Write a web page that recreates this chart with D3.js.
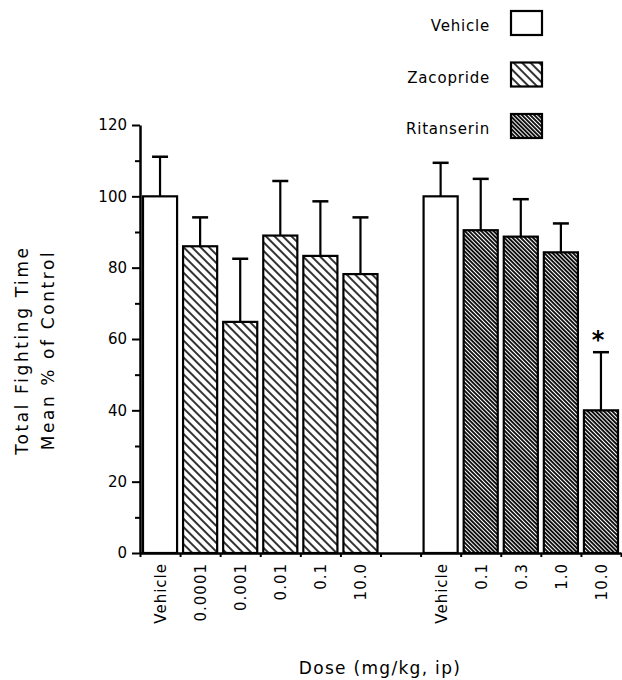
<!DOCTYPE html>
<html>
<head>
<meta charset="utf-8">
<script src="https://cdn.jsdelivr.net/npm/d3@7"></script>
<style>
    body { margin: 0; background: #fff; }
    text { font-family: "DejaVu Sans", sans-serif; fill: #000; }
</style>
</head>
<body>
<svg width="622" height="680"></svg>
<script>
// values
var doseLabels = ['Vehicle', '0.0001', '0.001', '0.01', '0.1', '10.0', 'Vehicle', '0.1', '0.3', '1.0', '10.0'];
var treatment = ['Vehicle', 'Zacopride', 'Zacopride', 'Zacopride', 'Zacopride', 'Zacopride',
                 'Vehicle', 'Ritanserin', 'Ritanserin', 'Ritanserin', 'Ritanserin'];
var means = [100, 86, 64.8, 89, 83.3, 78.2, 100, 90.5, 88.7, 84.3, 40];
var sems = [11.1, 8.1, 17.7, 15.3, 15.3, 15.9, 9.4, 14.4, 10.5, 8.1, 16.3];
var significant = [false, false, false, false, false, false, false, false, false, false, true];
// slot index of every bar (slot 6 is the gap between the two experiments)
var slots = [0, 1, 2, 3, 4, 5, 7, 8, 9, 10, 11];
var legendNames = ['Vehicle', 'Zacopride', 'Ritanserin'];
var yTicks = [0, 20, 40, 60, 80, 100, 120];

var svg = d3.select('svg');
var defs = svg.append('defs');

// hatch patterns
var zac = defs.append('pattern')
    .attr('id', 'hatchZac')
    .attr('patternUnits', 'userSpaceOnUse')
    .attr('width', 6).attr('height', 6)
    .attr('patternTransform', 'rotate(-45)');
zac.append('rect').attr('width', 6).attr('height', 6).attr('fill', '#fff');
zac.append('line')
    .attr('x1', 3).attr('y1', 0).attr('x2', 3).attr('y2', 6)
    .attr('stroke', '#000').attr('stroke-width', 1.6);

var rit = defs.append('pattern')
    .attr('id', 'hatchRit')
    .attr('patternUnits', 'userSpaceOnUse')
    .attr('width', 2.9).attr('height', 2.9)
    .attr('patternTransform', 'rotate(-45)');
rit.append('rect').attr('width', 2.9).attr('height', 2.9).attr('fill', '#000');
rit.append('line')
    .attr('x1', 1.45).attr('y1', 0).attr('x2', 1.45).attr('y2', 2.9)
    .attr('stroke', '#fff').attr('stroke-width', 1.1);

var fills = { 'Vehicle': '#fff', 'Zacopride': 'url(#hatchZac)', 'Ritanserin': 'url(#hatchRit)' };

// scales
var xScale = d3.scaleLinear().domain([0, 12]).range([140, 621]);
var yScale = d3.scaleLinear().domain([0, 120]).range([553, 125]);
var slotW = xScale(1) - xScale(0);
var barW = slotW - 6;

// y axis: major ticks every 20, minor every 10
var yMinor = svg.append('g')
    .attr('transform', 'translate(140,0)')
    .call(d3.axisLeft(yScale).tickValues(d3.range(10, 120, 20)).tickSize(5).tickFormat(''));
yMinor.select('.domain').remove();
yMinor.selectAll('line').attr('stroke-width', 2);

var yAxis = svg.append('g')
    .attr('transform', 'translate(140,0)')
    .call(d3.axisLeft(yScale).tickValues(yTicks).tickSize(8).tickSizeOuter(0).tickPadding(5));
yAxis.select('.domain').attr('stroke-width', 2.5);
yAxis.selectAll('line').attr('stroke-width', 2);
yAxis.selectAll('text')
    .style('font-size', '15px')
    .style('font-family', '"DejaVu Sans", sans-serif');

// bars
var bars = svg.selectAll('.bar')
    .data(means)
    .enter()
    .append('g')
    .attr('class', 'bar');

// error bars (upper only)
bars.append('line')
    .attr('x1', function(d, i) { return xScale(slots[i] + 0.5); })
    .attr('x2', function(d, i) { return xScale(slots[i] + 0.5); })
    .attr('y1', function(d) { return yScale(d); })
    .attr('y2', function(d, i) { return yScale(d + sems[i]); })
    .attr('stroke', '#000').attr('stroke-width', 2.2);
bars.append('line')
    .attr('x1', function(d, i) { return xScale(slots[i] + 0.5) - 8; })
    .attr('x2', function(d, i) { return xScale(slots[i] + 0.5) + 8; })
    .attr('y1', function(d, i) { return yScale(d + sems[i]); })
    .attr('y2', function(d, i) { return yScale(d + sems[i]); })
    .attr('stroke', '#000').attr('stroke-width', 2.5);

bars.append('rect')
    .attr('x', function(d, i) { return xScale(slots[i] + 0.5) - barW / 2; })
    .attr('y', function(d) { return yScale(d); })
    .attr('width', barW)
    .attr('height', function(d) { return yScale(0) - yScale(d); })
    .attr('fill', function(d, i) { return fills[treatment[i]]; })
    .attr('stroke', '#000')
    .attr('stroke-width', 2.2);

// significance star
bars.filter(function(d, i) { return significant[i]; })
    .append('text')
    .attr('x', function(d) { return xScale(slots[means.indexOf(d)] + 0.5) - 3; })
    .attr('y', function(d) { return yScale(d + sems[means.indexOf(d)]) - 4; })
    .attr('text-anchor', 'middle')
    .style('font-size', '24px')
    .style('font-weight', 'bold')
    .text('*');

// x axis: ticks at slot boundaries
var xAxis = svg.append('g')
    .attr('transform', 'translate(0,553)')
    .call(d3.axisBottom(xScale).tickValues(d3.range(0, 13)).tickSize(4).tickSizeOuter(0).tickFormat(''));
xAxis.select('.domain').attr('stroke-width', 2.5);
xAxis.selectAll('line').attr('stroke-width', 2);

svg.selectAll('.dose')
    .data(doseLabels)
    .enter()
    .append('text')
    .attr('class', 'dose')
    .attr('transform', function(d, i) {
        return 'translate(' + (xScale(slots[i] + 0.5) + 6) + ',' + 563 + ') rotate(-90)';
    })
    .attr('text-anchor', 'end')
    .style('font-size', '15px')
    .style('letter-spacing', '1px')
    .text(function(d) { return d; });

// axis titles
svg.append('text')
    .attr('transform', 'translate(28,350) rotate(-90)')
    .attr('text-anchor', 'middle')
    .style('font-size', '17px')
    .style('letter-spacing', '2.6px')
    .text('Total Fighting Time');
svg.append('text')
    .attr('transform', 'translate(54,350) rotate(-90)')
    .attr('text-anchor', 'middle')
    .style('font-size', '17px')
    .style('letter-spacing', '2.6px')
    .text('Mean % of Control');
svg.append('text')
    .attr('x', 380)
    .attr('y', 674)
    .attr('text-anchor', 'middle')
    .style('font-size', '17px')
    .style('letter-spacing', '1.3px')
    .text('Dose (mg/kg, ip)');

// legend
var legend = svg.selectAll('.legend')
    .data(legendNames)
    .enter()
    .append('g')
    .attr('class', 'legend')
    .attr('transform', function(d, i) { return 'translate(0,' + (11 + i * 51.5) + ')'; });
legend.append('rect')
    .attr('x', 511).attr('y', 0)
    .attr('width', 31).attr('height', 24)
    .attr('fill', function(d) { return fills[d]; })
    .attr('stroke', '#000').attr('stroke-width', 2.2);
legend.append('text')
    .attr('x', 490).attr('y', 20)
    .attr('text-anchor', 'end')
    .style('font-size', '15px')
    .style('letter-spacing', '0.8px')
    .text(function(d) { return d; });
</script>
</body>
</html>
